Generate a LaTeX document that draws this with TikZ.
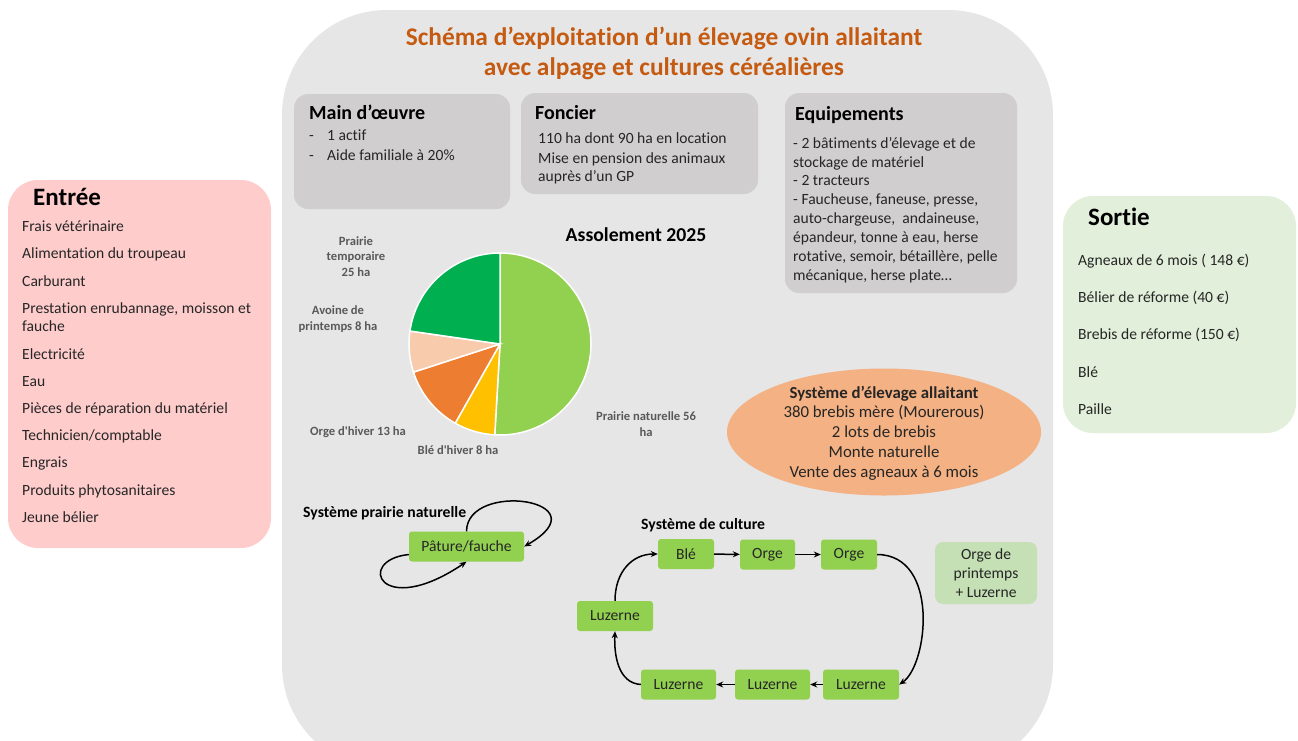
\documentclass[tikz,border=0pt]{standalone}
\usepackage{fontspec}
\setmainfont{Carlito}[Ligatures={TeX,NoCommon}]
\newfontfamily\labfont{Carlito}[Ligatures=NoCommon]
\usetikzlibrary{shapes.geometric,arrows.meta,positioning}
\begin{document}
\begin{tikzpicture}[x=1pt, y=-1pt]
  % Colors
  \definecolor{backcol}{RGB}{230,230,230}
  \definecolor{boxcol}{RGB}{208,206,206}
  \definecolor{titlecol}{RGB}{197,90,17}
  \definecolor{incol}{RGB}{255,204,204}
  \definecolor{outcol}{RGB}{226,239,218}
  \definecolor{cropcol}{RGB}{146,208,80}
  \definecolor{mixcol}{RGB}{197,224,180}
  \definecolor{herdcol}{RGB}{244,177,131}
  \definecolor{natcol}{RGB}{146,208,80}
  \definecolor{wheatcol}{RGB}{255,192,0}
  \definecolor{barleycol}{RGB}{237,125,49}
  \definecolor{oatcol}{RGB}{248,203,173}
  \definecolor{tempcol}{RGB}{0,176,80}
  \definecolor{labcol}{RGB}{89,89,89}
  \definecolor{txtcol}{RGB}{38,38,38}
  %
  \def\fs{15.6}
  \def\pr{91}
  %
  % text nodes sit on their last line
  \tikzset{
    tline/.style={inner sep=0pt, text height=1.05em, text depth=0pt},
    panel/.style={fill=boxcol, rounded corners=14pt},
    ptitle/.style={tline, anchor=west, font=\fontsize{20}{24}\selectfont\bfseries},
    pline/.style={tline, anchor=west, text=txtcol, font=\fontsize{\fs}{18}\selectfont},
    crop/.style={fill=cropcol, rounded corners=3pt, minimum height=30pt, inner sep=0pt,
                 text=txtcol, font=\fontsize{\fs}{18}\selectfont},
    pielab/.style={tline, align=center, text=labcol,
                   font=\labfont\fontsize{12.6}{15.5}\selectfont\bfseries},
    subtitle/.style={anchor=west, inner sep=0pt, font=\fontsize{15.7}{18}\selectfont\bfseries},
    flow/.style={-{Stealth[length=7pt, width=6pt]}, line width=1.5pt},
  }
  %
  \useasboundingbox (0,0) rectangle (1298,740);
  \clip (0,0) rectangle (1298,740);
  %
  %%% FARM %%%
  \fill[backcol, rounded corners=105pt] (282,10) rectangle (1053,770);
  \node[tline, align=center, text=titlecol,
        font=\fontsize{25.4}{30}\selectfont\bfseries] (title) at (664,70)
    {Schéma d’exploitation d’un élevage ovin allaitant\\avec alpage et cultures céréalières};
  %
  % Labour
  \fill[panel] (294,94) rectangle (510,209);
  \node[ptitle] (mainT) at (309,114) {Main d’œuvre};
  \foreach \n/\y/\txt in {A/135/{1 actif}, B/155/{Aide familiale à 20\%}} {
    \node[pline] (dash\n) at (309,\y) {-};
    \node[pline] (main\n) at (327,\y) {\txt};
  }
  %
  % Land
  \fill[panel] (521,93) rectangle (758,194);
  \node[ptitle] (foncT) at (535,114) {Foncier};
  \foreach \n/\y/\txt in {
    1/138/{110 ha dont 90 ha en location},
    2/158/{Mise en pension des animaux},
    3/176/{auprès d’un GP}%
  } {
    \node[pline] (fonc\n) at (538,\y) {\txt};
  }
  %
  % Machinery
  \fill[panel] (785,93) rectangle (1017,293);
  \node[ptitle] (equT) at (795,115) {Equipements};
  \foreach \n/\txt in {
    0/{- 2 bâtiments d’élevage et de}, 1/{stockage de matériel},
    2/{- 2 tracteurs}, 3/{- Faucheuse, faneuse, presse,},
    4/{auto-chargeuse,\ \ andaineuse,}, 5/{épandeur, tonne à eau, herse},
    6/{rotative, semoir, bétaillère, pelle}, 7/{mécanique, herse plate…}%
  } {
    \node[pline] (equ\n) at (793,{143+\n*18.85}) {\txt};
  }
  %
  %%% INPUTS %%%
  \fill[incol, rounded corners=30pt] (8,180) rectangle (271,548);
  \node[ptitle, font=\fontsize{25}{28}\selectfont\bfseries] (inT) at (33,200) {Entrée};
  \foreach \n/\y/\txt in {
    1/226/{Frais vétérinaire}, 2/253/{Alimentation du troupeau}, 3/281/{Carburant},
    4/326/{Prestation enrubannage, moisson et\\fauche}, 5/354/{Electricité}, 6/381/{Eau},
    7/408/{Pièces de réparation du matériel}, 8/435/{Technicien/comptable},
    9/462/{Engrais}, 10/490/{Produits phytosanitaires}, 11/517/{Jeune bélier}%
  } {
    \node[pline, align=left] (in\n) at (22,\y) {\txt};
  }
  %
  %%% OUTPUTS %%%
  \fill[outcol, rounded corners=30pt] (1063,196) rectangle (1296,433);
  \node[ptitle, font=\fontsize{25}{28}\selectfont\bfseries] (outT) at (1088,220) {Sortie};
  \foreach \n/\y/\txt in {
    1/260/{Agneaux de 6 mois ( 148 €)}, 2/297/{Bélier de réforme (40 €)},
    3/334/{Brebis de réforme (150 €)}, 4/372/{Blé}, 5/409/{Paille}%
  } {
    \node[pline] (out\n) at (1078,\y) {\txt};
  }
  %
  %%% CROP PLAN %%%
  \node[font=\fontsize{19.7}{22}\selectfont\bfseries] (assol) at (636,235) {Assolement 2025};
  \begin{scope}[shift={(500,344)}, yscale=-1]
    \foreach \a/\b/\col in {90/-93.3/natcol, -93.3/-119.5/wheatcol, -119.5/-162/barleycol,
                            -162/-188.2/oatcol, -188.2/-270/tempcol} {
      \filldraw[fill=\col, draw=white, line width=1.5pt]
        (0,0) -- (\a:\pr) arc[start angle=\a, end angle=\b, radius=\pr] -- cycle;
    }
  \end{scope}
  \node[pielab] (labTemp) at (356,271) {Prairie\\temporaire\\25 ha};
  \node[pielab] (labOat) at (338,325) {Avoine de\\printemps 8 ha};
  \node[pielab] (labBarley) at (358,430) {Orge d'hiver 13 ha};
  \node[pielab] (labWheat) at (458,449) {Blé d'hiver 8 ha};
  \node[pielab] (labNat) at (646,431) {Prairie naturelle 56\\ha};
  %
  %%% HERD %%%
  \node[ellipse, fill=herdcol, minimum width=314pt, minimum height=127pt] (herd) at (884,432) {};
  \node[tline, align=center, text=txtcol, font=\fontsize{16.8}{19.8}\selectfont] (herdtxt) at (884,472)
    {\textbf{Système d’élevage allaitant}\\380 brebis mère (Mourerous)\\2 lots de brebis\\Monte naturelle\\Vente des agneaux à 6 mois};
  %
  %%% GRASSLAND %%%
  \node[subtitle] (prairieT) at (303,513) {Système prairie naturelle};
  \node[crop, minimum width=115pt] (pat) at (466.5,546.5) {Pâture/fauche};
  \draw[flow] (pat.north) .. controls (467,480) and (605,500) .. (pat.east);
  \draw[flow] ([yshift=-8pt]pat.west) .. controls (355,560) and (380,620) .. (pat.south);
  %
  %%% ROTATION %%%
  \node[subtitle] (cultT) at (641,525) {Système de culture};
  \node[crop, minimum width=56pt] (ble) at (686,554) {Blé};
  \node[crop, minimum width=55pt] (orgeA) at (767.5,554.5) {Orge};
  \node[crop, minimum width=56pt] (orgeB) at (849,554.5) {Orge};
  \node[crop, minimum width=76pt] (luzL) at (615,616) {Luzerne};
  \node[crop, minimum width=75pt] (luzA) at (678.5,684.5) {Luzerne};
  \node[crop, minimum width=75pt] (luzB) at (772.5,684.5) {Luzerne};
  \node[crop, minimum width=76pt] (luzC) at (861,684.5) {Luzerne};
  \node[crop, fill=mixcol, rounded corners=8pt, minimum width=102pt, minimum height=62pt,
        align=center, font=\fontsize{\fs}{19}\selectfont] (mix) at (986,573)
    {Orge de\\printemps\\+ Luzerne};
  %
  \draw[flow] (ble) -- (orgeA);
  \draw[flow] (orgeA) -- (orgeB);
  \draw[flow] (orgeB.east) .. controls (940,555) and (928,665) .. (luzC.east);
  \draw[flow] (luzC) -- (luzB);
  \draw[flow] (luzB) -- (luzA);
  \draw[flow] (luzA.west) .. controls (618,683) and (614,655) .. (luzL.south);
  \draw[flow] (luzL.north) .. controls (615,572) and (632,554) .. (ble.west);
\end{tikzpicture}
\end{document}
